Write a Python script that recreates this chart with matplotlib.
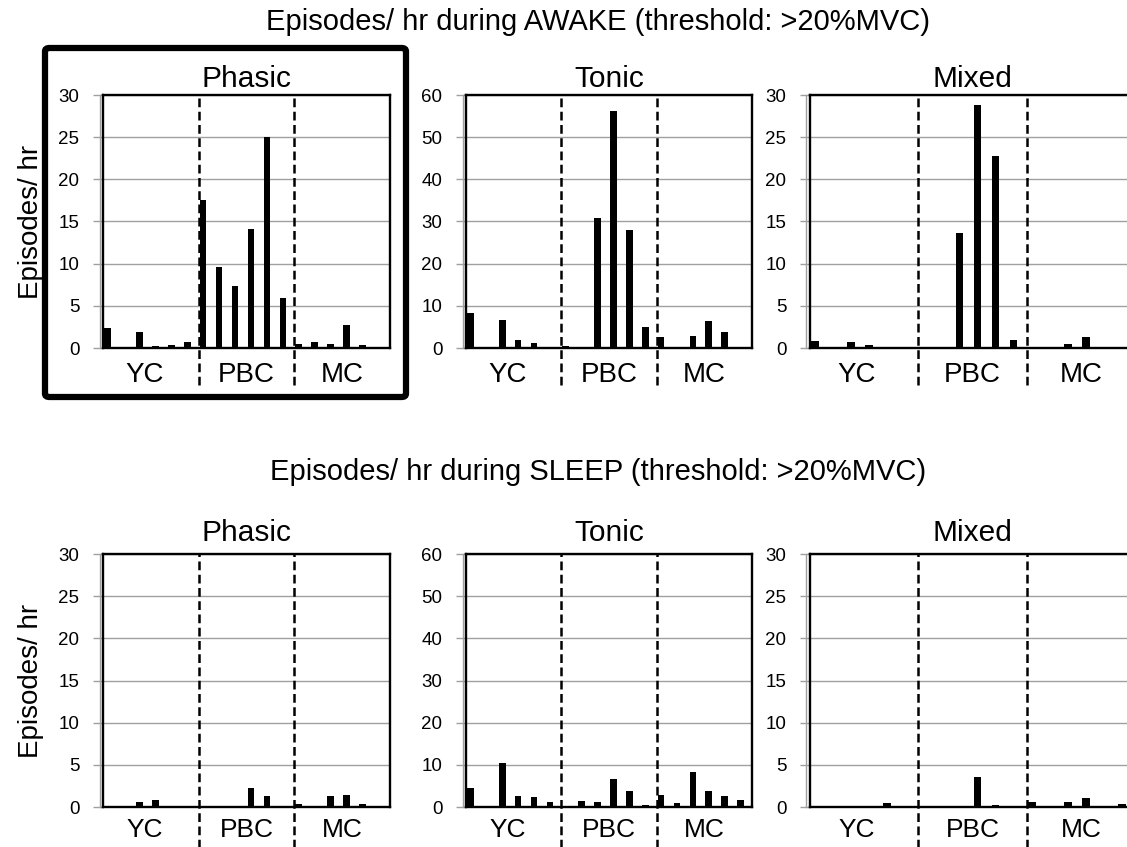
import matplotlib
matplotlib.use("Agg")
import matplotlib.pyplot as plt
from matplotlib.patches import FancyBboxPatch

plt.rcParams['font.family'] = ['Liberation Sans', 'DejaVu Sans']

# 18 subjects: 6 YC, 6 PBC, 6 MC
groups = ["YC", "PBC", "MC"]
panel_names = ["Phasic", "Tonic", "Mixed"]

awake_phasic = [2.4, 0.1, 1.9, 0.2, 0.3, 0.7, 17.5, 9.6, 7.4, 14.1, 25.0, 5.9, 0.45, 0.75, 0.5, 2.75, 0.35, 0.1]
awake_tonic = [8.4, 0.1, 6.7, 1.9, 1.3, 0.1, 0.5, 0.1, 30.9, 56.3, 27.9, 4.9, 2.5, 0.3, 2.9, 6.3, 3.8, 0.3]
awake_mixed = [0.85, 0, 0.75, 0.35, 0, 0, 0.08, 0.15, 13.6, 28.8, 22.8, 1.0, 0.08, 0.15, 0.45, 1.3, 0.08, 0]

sleep_phasic = [0.05, 0, 0.55, 0.85, 0.05, 0.05, 0.05, 0.05, 0.05, 2.2, 1.25, 0, 0.4, 0.05, 1.35, 1.45, 0.3, 0.05]
sleep_tonic = [4.6, 0.1, 10.4, 2.7, 2.3, 1.1, 0, 1.5, 1.1, 6.7, 3.9, 0.4, 2.9, 0.95, 8.3, 3.9, 2.5, 1.6]
sleep_mixed = [0, 0, 0, 0, 0.5, 0, 0, 0, 0, 3.55, 0.25, 0, 0.55, 0, 0.55, 1.05, 0, 0.4]

y_max = [30, 60, 30]
y_step = [5, 10, 5]

titles = ["Episodes/ hr during AWAKE (threshold: >20%MVC)",
          "Episodes/ hr during SLEEP (threshold: >20%MVC)"]

W, H = 1127, 847
fig = plt.figure(figsize=(W / 100, H / 100), dpi=100)

# axes boxes in pixels: left, right
col_px = [(103, 390), (466, 752), (810, 1135)]
row_px = [(95, 348), (554, 807)]  # top, bottom


def px_box(c, r):
    l, rr = col_px[c]
    t, b = row_px[r]
    return [l / W, 1 - b / H, (rr - l) / W, (b - t) / H]


rows = [[awake_phasic, awake_tonic, awake_mixed],
        [sleep_phasic, sleep_tonic, sleep_mixed]]

for r in range(2):
    for c in range(3):
        vals = rows[r][c]
        ax = fig.add_axes(px_box(c, r))
        n = len(vals)
        ax.bar([i + 0.07 for i in range(n)], vals, width=0.42, align='edge',
               color='black', zorder=3)
        ax.set_xlim(0, n)
        ax.set_ylim(0, y_max[c])
        ticks = list(range(0, y_max[c] + 1, y_step[c]))
        ax.set_yticks(ticks)
        ax.yaxis.grid(True, color='#a0a0a0', lw=1.0, zorder=0)
        ax.set_xticks([])
        ax.tick_params(axis='y', length=7, width=1, color='#a0a0a0',
                       labelsize=13.5, pad=10)
        for s in ax.spines.values():
            s.set_linewidth(1.7)
            s.set_color('black')
        # light axis line left of the frame
        ax.plot([-0.012, -0.012], [0, 1], transform=ax.transAxes,
                color='#a0a0a0', lw=1, clip_on=False)

        ax.set_title(panel_names[c], fontsize=21.5, pad=5.5 if r == 0 else 9.5)

        low = -0.148 if r == 0 else -0.17
        for xb in (6, 12):
            ax.axvline(xb, ymin=low, ymax=1, color='black', lw=1.8,
                       ls=(0, (3.5, 1.8)), clip_on=False, zorder=4)

        ly = -0.108 if r == 0 else -0.092
        fs = 20 if r == 0 else 19
        for g, xc in zip(groups, (2.6, 9, 15)):
            ax.text(xc, ly, g, transform=ax.get_xaxis_transform(),
                    ha='center', va='center', fontsize=fs)

        if c == 0:
            ax.set_ylabel("Episodes/ hr", fontsize=20, labelpad=10)

fig.text(598 / W, 1 - 22 / H, titles[0], ha='center', va='center', fontsize=21)
fig.text(598 / W, 1 - 472 / H, titles[1], ha='center', va='center', fontsize=21)

# thick frame around the awake phasic panel
box = FancyBboxPatch((45 / W, 1 - 397 / H), (406 - 45) / W, (397 - 48) / H,
                     boxstyle="round,pad=0,rounding_size=0.004",
                     transform=fig.transFigure, fill=False, lw=4.5,
                     edgecolor='black')
fig.patches.append(box)

fig.savefig("out.png", dpi=100)
